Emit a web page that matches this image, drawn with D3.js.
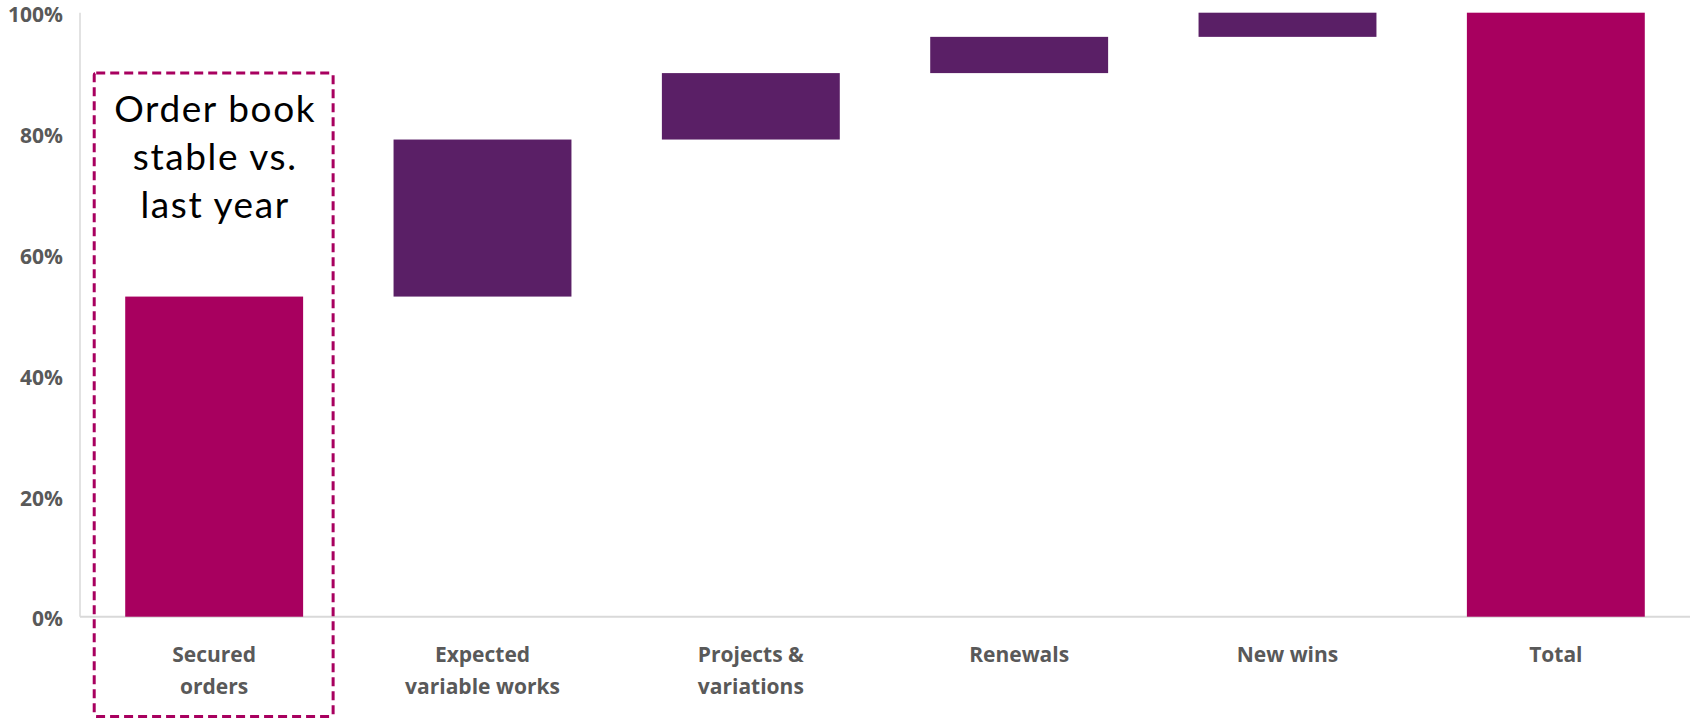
<!DOCTYPE html>
<html>
<head>
<meta charset="utf-8">
<script src="https://cdn.jsdelivr.net/npm/d3@7"></script>
<style>
  html, body { margin: 0; padding: 0; background: #fff; }
  svg { display: block; }
</style>
</head>
<body>
<div id="chart"></div>
<script>
// Data
const categories = ["Secured orders", "Expected variable works", "Projects & variations", "Renewals", "New wins", "Total"];
const labelLines = [["Secured", "orders"], ["Expected", "variable works"], ["Projects &", "variations"], ["Renewals"], ["New wins"], ["Total"]];
const values = [0.53, 0.26, 0.11, 0.06, 0.04, 1.00];
const isTotal = [true, false, false, false, false, true];
const yTicks = [0, 0.2, 0.4, 0.6, 0.8, 1.0];
const noteLines = ["Order book", "stable vs.", "last year"];

const width = 1690, height = 722;
const magenta = "#a8005f", purple = "#5a1f66", grey = "#595959";

const svg = d3.select("#chart").append("svg")
    .attr("width", width)
    .attr("height", height);

const x = d3.scaleBand()
    .domain(categories)
    .range([80, 1690])
    .paddingInner(0.337)
    .paddingOuter(0.1685);

const y = d3.scaleLinear()
    .domain([0, 1])
    .range([616.7, 12.7]);

// waterfall start / end
let running = 0;
const bars = categories.map((c, i) => {
    let lo, hi;
    if (isTotal[i]) { lo = 0; hi = values[i]; running = values[i]; }
    else { lo = running; hi = running + values[i]; running = hi; }
    return { cat: c, lo, hi, total: isTotal[i] };
});

// axis lines
svg.append("line")
    .attr("x1", 80).attr("x2", 80)
    .attr("y1", y(1)).attr("y2", y(0))
    .attr("stroke", "#d9d9d9").attr("stroke-width", 1.5);
svg.append("line")
    .attr("x1", 80).attr("x2", width)
    .attr("y1", y(0)).attr("y2", y(0))
    .attr("stroke", "#d9d9d9").attr("stroke-width", 2);

// y tick labels
svg.selectAll(".ytick")
    .data(yTicks)
    .enter()
    .append("text")
    .attr("class", "ytick")
    .attr("x", 63)
    .attr("y", d => y(d) + 4)
    .attr("text-anchor", "end")
    .attr("dominant-baseline", "middle")
    .attr("style", `font-family: 'Open Sans', sans-serif; font-weight: 700; font-size: 21px; fill: ${grey};`)
    .text(d3.format(".0%"));

// bars
svg.selectAll(".bar")
    .data(bars)
    .enter()
    .append("rect")
    .attr("class", "bar")
    .attr("x", d => x(d.cat))
    .attr("width", x.bandwidth())
    .attr("y", d => y(d.hi))
    .attr("height", d => y(d.lo) - y(d.hi))
    .attr("fill", d => d.total ? magenta : purple);

// category labels
const catLabels = svg.selectAll(".cat-label")
    .data(categories)
    .enter()
    .append("text")
    .attr("class", "cat-label")
    .attr("text-anchor", "middle")
    .attr("style", `font-family: 'Open Sans', sans-serif; font-weight: 700; font-size: 21px; fill: ${grey};`);

catLabels.each(function(c, i) {
    const t = d3.select(this);
    labelLines[i].forEach((line, j) => {
        t.append("tspan")
            .attr("x", x(c) + x.bandwidth() / 2)
            .attr("y", 662 + j * 32)
            .text(line);
    });
});

// dashed annotation box around first category
const first = categories[0];
svg.append("rect")
    .attr("x", x(first) - 31)
    .attr("y", y(0.9))
    .attr("width", x.bandwidth() + 61)
    .attr("height", 716.5 - y(0.9))
    .attr("rx", 2)
    .attr("fill", "none")
    .attr("stroke", magenta)
    .attr("stroke-width", 3)
    .attr("stroke-dasharray", "9,5");

svg.append("text")
    .attr("text-anchor", "middle")
    .attr("style", "font-family: Lato, sans-serif; font-size: 37px; letter-spacing: 1.6px; fill: #000;")
    .selectAll("tspan")
    .data(noteLines)
    .enter()
    .append("tspan")
    .attr("x", x(first) + x.bandwidth() / 2 + 1)
    .attr("y", (d, i) => 122 + i * 48)
    .text(d => d);
</script>
</body>
</html>
